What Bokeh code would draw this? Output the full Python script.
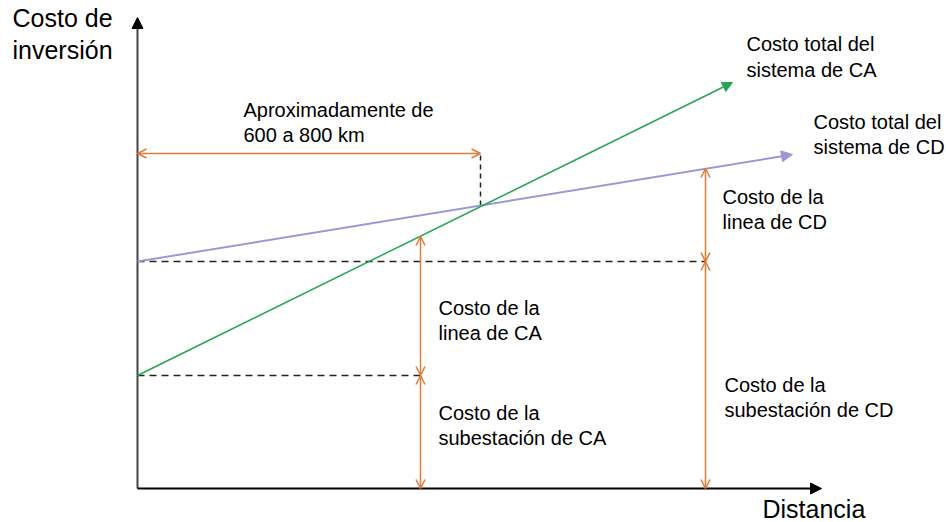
from bokeh.plotting import figure
from bokeh.models import Range1d, Arrow, NormalHead, OpenHead, Label
from bokeh.embed import file_html
from bokeh.resources import INLINE

# Conceptual data (distance units on x, investment cost units on y)
ac_dist = [0, 595]          # total AC system cost line (distance)
ac_cost = [113, 406]        # total AC system cost line (cost)
dc_dist = [0, 655]          # total DC system cost line
dc_cost = [227, 334]
ac_sub_cost = 113           # AC substation cost
dc_sub_cost = 227           # DC substation cost
break_even_dist = 343       # 600-800 km crossover distance
break_even_cost = 283
span_label_cost = 335       # level of the "600 a 800 km" dimension arrow
ac_marker_dist = 283        # where AC cost components are marked
ac_marker_cost = 252
dc_marker_dist = 568        # where DC cost components are marked
dc_marker_cost = 320
axis_x_end = 684
axis_y_end = 471

W, H = 946, 522
OX, OY = 137, 488   # page position of the origin
p = figure(width=W, height=H, output_backend="svg", toolbar_location=None,
           x_range=Range1d(-OX, W - OX), y_range=Range1d(-(H - OY), OY),
           min_border=0, outline_line_color=None)
p.axis.visible = False
p.grid.visible = False

GREEN = "#27a552"
PURPLE = "#9c98d4"
ORANGE = "#e07b39"
DASH = "#222222"

# axes with arrows
p.add_layout(Arrow(x_start=0, y_start=0, x_end=0, y_end=axis_y_end,
                   line_color="#444444", line_width=2,
                   end=NormalHead(size=11, fill_color="black", line_color="black")))
p.add_layout(Arrow(x_start=0, y_start=0, x_end=axis_x_end, y_end=0,
                   line_color="black", line_width=2,
                   end=NormalHead(size=11, fill_color="black", line_color="black")))

# dashed helper lines
p.line([0, dc_marker_dist], [dc_sub_cost, dc_sub_cost], line_color=DASH, line_width=1.5, line_dash="7 5")
p.line([0, ac_marker_dist], [ac_sub_cost, ac_sub_cost], line_color=DASH, line_width=1.5, line_dash="7 5")
p.line([break_even_dist, break_even_dist], [break_even_cost, span_label_cost], line_color=DASH,
       line_width=1.5, line_dash="5 4")

# cost lines
p.add_layout(Arrow(x_start=dc_dist[0], y_start=dc_cost[0], x_end=dc_dist[1], y_end=dc_cost[1],
                   line_color=PURPLE, line_width=2,
                   end=NormalHead(size=11, fill_color=PURPLE, line_color=PURPLE)))
p.add_layout(Arrow(x_start=ac_dist[0], y_start=ac_cost[0], x_end=ac_dist[1], y_end=ac_cost[1],
                   line_color=GREEN, line_width=1.5,
                   end=NormalHead(size=10, fill_color=GREEN, line_color=GREEN)))

def dim_arrow(x0, y0, x1, y1):
    p.add_layout(Arrow(x_start=x0, y_start=y0, x_end=x1, y_end=y1,
                       line_color=ORANGE, line_width=1.5,
                       start=OpenHead(size=9, line_color=ORANGE, line_width=1.5),
                       end=OpenHead(size=9, line_color=ORANGE, line_width=1.5)))

dim_arrow(0, span_label_cost, break_even_dist, span_label_cost)
dim_arrow(ac_marker_dist, ac_marker_cost, ac_marker_dist, ac_sub_cost)
dim_arrow(ac_marker_dist, ac_sub_cost, ac_marker_dist, 0)
dim_arrow(dc_marker_dist, dc_marker_cost, dc_marker_dist, dc_sub_cost)
dim_arrow(dc_marker_dist, dc_sub_cost, dc_marker_dist, 0)

FONT = "Liberation Sans"

def label(px, py, txt, size="20px"):
    # px, py: page coordinates of text start / baseline
    p.add_layout(Label(x=px - OX, y=OY - py, text=txt, text_font=FONT,
                       text_font_size=size, text_color="black",
                       text_baseline="alphabetic", text_align="left"))

label(12, 17, "Costo de", "25px")
label(12, 49, "inversión", "25px")
label(762, 508, "Distancia", "25px")
label(746, 43, "Costo total del")
label(746, 69, "sistema de CA")
label(813, 121, "Costo total del")
label(813, 146, "sistema de CD")
label(243, 109, "Aproximadamente de")
label(243, 134, "600 a 800 km")
label(722, 196, "Costo de la")
label(722, 221, "linea de CD")
label(438, 307, "Costo de la")
label(438, 332, "linea de CA")
label(438, 412, "Costo de la")
label(438, 437, "subestación de CA")
label(724, 384, "Costo de la")
label(724, 409, "subestación de CD")

open("out.html", "w").write(file_html(p, INLINE))
